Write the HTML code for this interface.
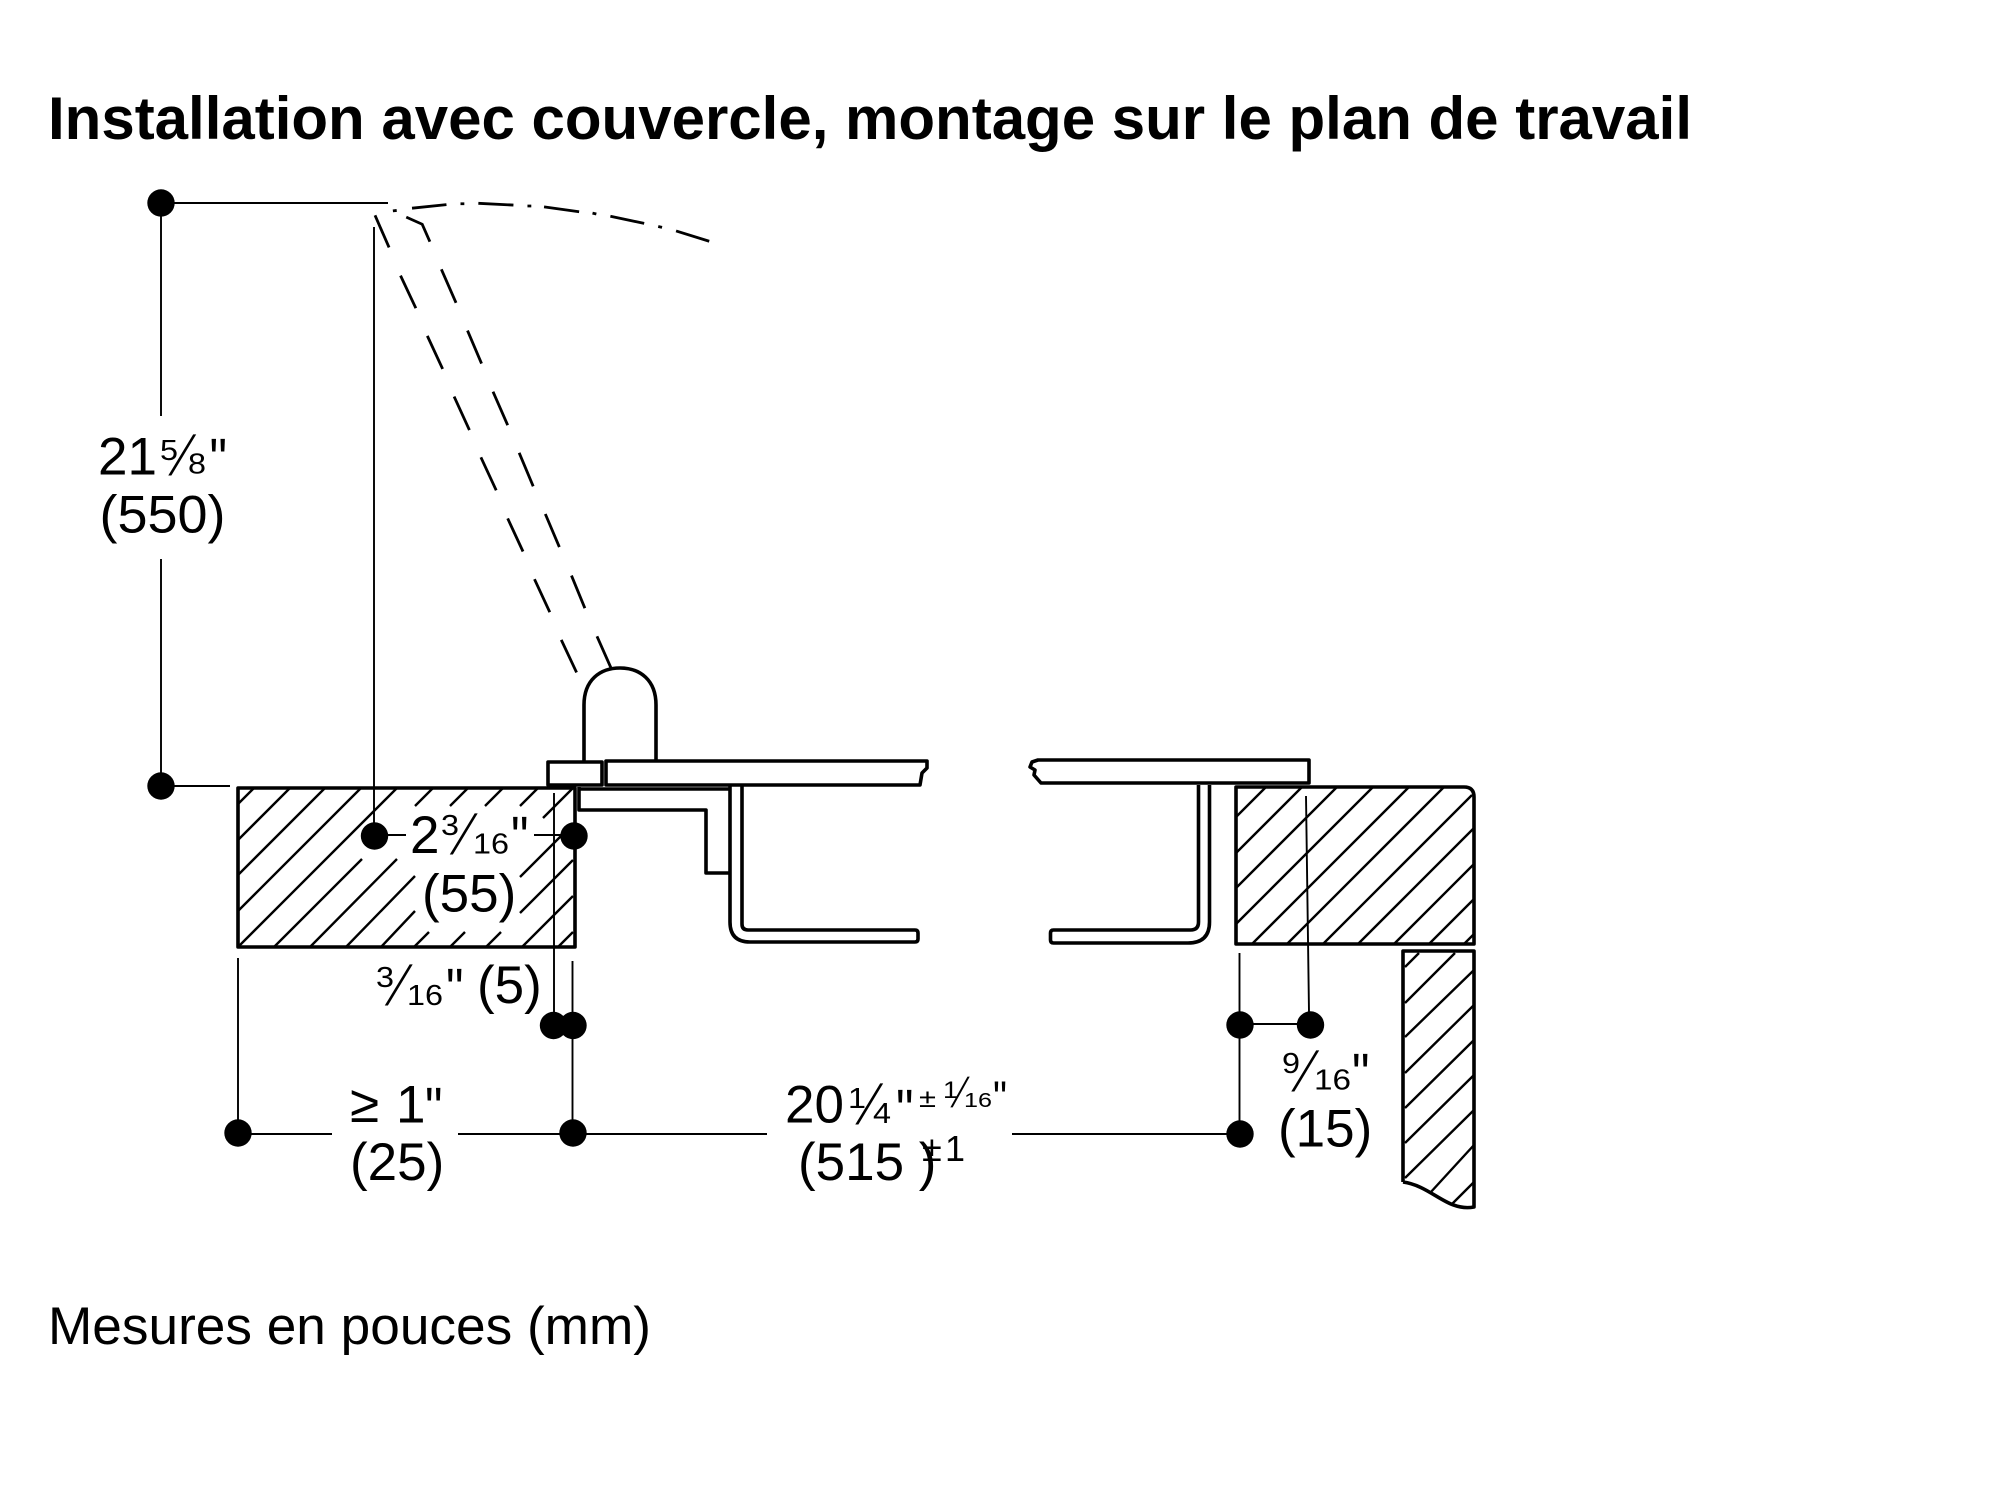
<!DOCTYPE html>
<html lang="fr"><head><meta charset="utf-8"><title>Installation avec couvercle</title>
<style>
html,body{margin:0;padding:0;background:#fff}
svg{display:block}
text{font-family:"Liberation Sans",sans-serif;fill:#000}
.b{font-size:53px}.s{font-size:29px}.q{font-size:58px}.f{font-size:56px}
.o{fill:none;stroke:#000;stroke-width:3.6;stroke-linejoin:round}
.h{stroke:#000;stroke-width:2.4;fill:none}
.d{stroke:#000;stroke-width:1.9;fill:none}
.m{stroke:#000;stroke-width:2.8;fill:none;vector-effect:non-scaling-stroke}
</style></head><body>
<svg width="2000" height="1507" viewBox="0 0 2000 1507" xmlns="http://www.w3.org/2000/svg">
<rect width="2000" height="1507" fill="#fff"/>
<text x="48" y="139" font-size="60" font-weight="700" textLength="1644" lengthAdjust="spacingAndGlyphs">Installation avec couvercle, montage sur le plan de travail</text>
<text x="48" y="1344" font-size="53" textLength="603" lengthAdjust="spacingAndGlyphs">Mesures en pouces (mm)</text>

<!-- hatching left block -->
<path class="h" d="M254 788L238 804M290 788L238 840M325 788L238 875M361 788L238 911M397 788L238 947M433 788L415 806M362 859L274 947M468 788L450 806M397 859L310 947M503 788L485 806M415 876L346 947M538 788L520 806M415 911L381 947M573 788L543 818M429 932L414 947M561 836L520 877M465 932L450 947M573 860L520 913M501 932L486 947M573 896L522 947M573 932L558 947"/>
<!-- hatching right block -->
<path class="h" d="M1266 787L1236 817M1302 787L1236 853M1337 787L1236 888M1373 787L1236 924M1409 787L1252 944M1444 787L1287 944M1472 795L1323 944M1474 828L1358 944M1474 864L1394 944M1474 899L1429 944M1474 934L1464 944"/>
<!-- lower block -->
<g transform="translate(-3,0)">
<path class="h" d="M1422 953L1408 967M1458 953L1408 1003M1477 970L1408 1037M1477 1005L1408 1073M1477 1040L1408 1108M1477 1075L1408 1143M1477 1110L1408 1178M1477 1145L1433 1193M1477 1182L1454 1205"/>
<path class="o" d="M1406 1182V951H1477V1207C1450 1212 1435 1186 1406 1182"/>
</g>

<!-- outlines -->
<path class="o" d="M238 788H575V947H238Z"/>
<path class="o" d="M1236 787H1464Q1474 787 1474 797V944H1236Z"/>
<path class="o" d="M548 762H602V785H548Z"/>
<path class="o" d="M606 761H927V768L922 773L920 785H606Z"/>
<path class="o" d="M1038 760H1309V783H1041L1034 775L1035 770L1030 767L1032 762Z"/>
<path class="o" d="M584 761V705C584 680 600 668 620 668C640 668 656 680 656 705V761"/>
<path class="o" d="M579 787V810H706V873H730M579 789H730"/>
<path class="o" d="M730 785V922Q730 942 750 942H915Q918 942 918 939V933Q918 930 915 930H748Q742 930 742 924V785"/>
<path class="o" d="M1198.5 785V922Q1198.5 930 1190.5 930H1053.5Q1050.5 930 1050.5 933V940Q1050.5 943 1053.5 943H1188Q1209.5 943 1209.5 922V785"/>

<!-- dashed lid -->
<g transform="translate(0,60) scale(0.6378,0.4464)">
<path class="m" d="M588 348L610 420M628 483L652 556M670 618L694 692M712 754L736 829M754 890L778 964M796 1027L820 1101M838 1163L862 1237M880 1299L904 1372"/>
<path class="m" d="M637 352L662 368L674 407M692 469L715 544M733 606L755 680M773 743L796 818M814 880L836 955M855 1017L877 1091M896 1155L917 1228M936 1291L958 1362"/>
<path class="m" d="M616 338L622 337M646 332L700 324M722 322L728 322M750 321L805 325M827 327L833 327M853 329L908 340M929 343L935 345M957 350L1010 366M1032 373L1038 375M1060 383L1112 406"/>
</g>

<!-- dimension lines -->
<path class="d" d="M161 203H388M161 203V416M161 559V786M161 786H230M374 227V836M375 835H406M534 835H574M554 793V1025M572.5 961V1133M238 958V1133M238 1134H332M458 1134H767M1012 1134H1240M1239.5 953V1134M1240 1024H1310M1306 796L1309 1012"/>
<g fill="#000">
<circle cx="161" cy="203" r="13.7"/><circle cx="161" cy="786" r="13.7"/>
<circle cx="374.5" cy="836" r="13.7"/><circle cx="574" cy="836" r="13.7"/>
<circle cx="553.5" cy="1025.5" r="13.7"/><circle cx="573" cy="1025.5" r="13.7"/>
<circle cx="238" cy="1133" r="13.7"/><circle cx="573" cy="1133" r="13.7"/>
<circle cx="1240" cy="1025" r="13.7"/><circle cx="1310.5" cy="1025" r="13.7"/><circle cx="1240" cy="1134" r="13.7"/>
</g>

<!-- 21 5/8" (550) -->
<text class="b" x="98" y="474.5">21</text>
<text class="s" x="160" y="460" textLength="18" lengthAdjust="spacingAndGlyphs">5</text>
<text class="f" transform="translate(168.5,475) skewX(-22.5) scale(.7,1)">/</text>
<text class="s" x="188" y="473.5" textLength="18" lengthAdjust="spacingAndGlyphs">8</text>
<text class="q" x="209.5" y="479" textLength="17.5" lengthAdjust="spacingAndGlyphs">"</text>
<text class="b" x="99.5" y="532.5" textLength="126" lengthAdjust="spacingAndGlyphs">(550)</text>

<!-- 2 3/16" (55) -->
<text class="b" x="410" y="853">2</text>
<text class="s" x="441" y="835" textLength="18" lengthAdjust="spacingAndGlyphs">3</text>
<text class="f" transform="translate(450,854) skewX(-22.5) scale(.7,1)">/</text>
<text class="s" x="473" y="853.5" textLength="36" lengthAdjust="spacingAndGlyphs">16</text>
<text class="q" x="511" y="857" textLength="17.5" lengthAdjust="spacingAndGlyphs">"</text>
<text class="b" x="422" y="911.5">(55)</text>

<!-- 3/16" (5) -->
<text class="s" x="376" y="987" textLength="18" lengthAdjust="spacingAndGlyphs">3</text>
<text class="f" transform="translate(385,1005) skewX(-22.5) scale(.7,1)">/</text>
<text class="s" x="407" y="1005" textLength="36" lengthAdjust="spacingAndGlyphs">16</text>
<text class="q" x="446" y="1009" textLength="17.5" lengthAdjust="spacingAndGlyphs">"</text>
<text class="b" x="477" y="1003">(5)</text>

<!-- >= 1" (25) -->
<text class="b" x="350" y="1122">≥</text>
<text class="b" x="396" y="1122.5">1</text>
<text class="q" x="425" y="1128" textLength="17.5" lengthAdjust="spacingAndGlyphs">"</text>
<text class="b" x="350" y="1180">(25)</text>

<!-- 20 1/4" ±1/16" (515 )±1 -->
<text class="b" x="785" y="1122.5">20</text>
<text class="s" x="848" y="1108" textLength="18" lengthAdjust="spacingAndGlyphs">1</text>
<text class="f" transform="translate(855.5,1124) skewX(-22.5) scale(.7,1)">/</text>
<text class="s" x="873" y="1123" textLength="18" lengthAdjust="spacingAndGlyphs">4</text>
<text class="q" x="896" y="1130" textLength="17.5" lengthAdjust="spacingAndGlyphs">"</text>
<text x="919" y="1107" font-size="26" textLength="17" lengthAdjust="spacingAndGlyphs">±</text>
<text x="943" y="1098" font-size="24" textLength="15" lengthAdjust="spacingAndGlyphs">1</text>
<text font-size="42" transform="translate(950.5,1107) skewX(-20) scale(.7,1)">/</text>
<text x="964" y="1107" font-size="20" textLength="28" lengthAdjust="spacingAndGlyphs">16</text>
<text x="993" y="1113.5" font-size="46" textLength="14" lengthAdjust="spacingAndGlyphs">"</text>
<text class="b" x="798" y="1180" xml:space="preserve">(515 )</text>
<text x="922" y="1161" font-size="36">±</text>
<text x="945" y="1161" font-size="36">1</text>

<!-- 9/16" (15) -->
<text class="s" x="1282" y="1073" textLength="18" lengthAdjust="spacingAndGlyphs">9</text>
<text class="f" transform="translate(1291.5,1091) skewX(-22.5) scale(.7,1)">/</text>
<text class="s" x="1314" y="1089.5" textLength="37" lengthAdjust="spacingAndGlyphs">16</text>
<text class="q" x="1352" y="1094" textLength="17.5" lengthAdjust="spacingAndGlyphs">"</text>
<text class="b" x="1278" y="1146.5">(15)</text>
</svg>
</body></html>
